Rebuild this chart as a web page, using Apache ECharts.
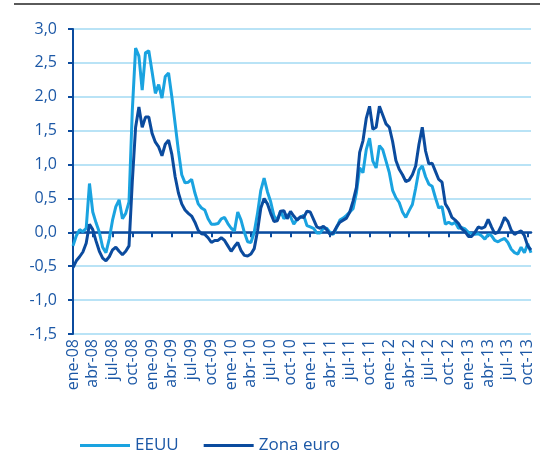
<!DOCTYPE html>
<html>
<head>
<meta charset="utf-8">
<script src="https://cdn.jsdelivr.net/npm/echarts@6/dist/echarts.min.js"></script>
<style>
  html, body { margin: 0; padding: 0; background: #fff; }
  #chart { width: 540px; height: 454px; }
</style>
</head>
<body>
<div id="chart"></div>
<script>
// two points per month, ene-08 .. oct-13
var meses = ['ene', 'feb', 'mar', 'abr', 'may', 'jun', 'jul', 'ago', 'sep', 'oct', 'nov', 'dic'];
var anios = ['08', '09', '10', '11', '12', '13'];

var eeuu = [
	-0.2, -0.05, 0.04, 0.01, 0.06, 0.72, 0.3, 0.14, 0.0, -0.22, -0.3, -0.1,
	0.18, 0.38, 0.48, 0.2, 0.28, 0.45, 1.8, 2.72, 2.6, 2.1, 2.65, 2.68,
	2.37, 2.05, 2.18, 1.98, 2.3, 2.35, 2.0, 1.6, 1.2, 0.85, 0.73, 0.74,
	0.78, 0.58, 0.42, 0.36, 0.33, 0.2, 0.12, 0.12, 0.13, 0.2, 0.22, 0.13,
	0.06, 0.02, 0.3, 0.18, 0.0, -0.14, -0.15, 0.0, 0.28, 0.62, 0.8, 0.6,
	0.45, 0.24, 0.18, 0.32, 0.2, 0.26, 0.23, 0.12, 0.19, 0.22, 0.25, 0.1,
	0.08, 0.06, -0.01, -0.01, 0.06, 0.06, 0.0, -0.03, 0.07, 0.18, 0.21, 0.25,
	0.3, 0.35, 0.58, 0.95, 0.88, 1.22, 1.39, 1.05, 0.95, 1.28, 1.22, 1.05,
	0.88, 0.62, 0.51, 0.44, 0.3, 0.22, 0.32, 0.41, 0.65, 0.92, 0.98, 0.82,
	0.71, 0.68, 0.51, 0.36, 0.38, 0.12, 0.15, 0.12, 0.15, 0.06, 0.07, 0.05,
	0.0, -0.02, -0.03, -0.02, -0.05, -0.1, -0.03, -0.05, -0.12, -0.14, -0.11, -0.09,
	-0.15, -0.25, -0.3, -0.32, -0.22, -0.3, -0.17, -0.3
];

var zonaEuro = [
	-0.52, -0.42, -0.36, -0.29, -0.16, 0.12, 0.04, -0.13, -0.28, -0.38, -0.42, -0.36,
	-0.26, -0.22, -0.28, -0.33, -0.28, -0.2, 0.75, 1.55, 1.85, 1.55, 1.7, 1.7,
	1.46, 1.33, 1.26, 1.13, 1.3, 1.36, 1.15, 0.82, 0.58, 0.42, 0.33, 0.28,
	0.24, 0.15, 0.03, -0.02, -0.03, -0.08, -0.15, -0.12, -0.12, -0.08, -0.12, -0.2,
	-0.28, -0.21, -0.15, -0.27, -0.34, -0.35, -0.32, -0.24, 0.02, 0.36, 0.5, 0.42,
	0.28, 0.16, 0.17, 0.31, 0.32, 0.2, 0.31, 0.24, 0.18, 0.23, 0.22, 0.31,
	0.3, 0.19, 0.08, 0.06, 0.09, 0.04, -0.03, -0.01, 0.08, 0.15, 0.18, 0.21,
	0.3, 0.46, 0.66, 1.18, 1.35, 1.68, 1.86, 1.52, 1.55, 1.86, 1.73, 1.6,
	1.55, 1.34, 1.06, 0.93, 0.85, 0.75, 0.77, 0.85, 0.98, 1.3, 1.55, 1.2,
	1.01, 1.02, 0.9, 0.78, 0.74, 0.42, 0.34, 0.22, 0.18, 0.13, 0.05, 0.01,
	-0.06, -0.06, 0.0, 0.08, 0.06, 0.08, 0.19, 0.08, -0.02, 0.0, 0.1, 0.22,
	0.16, 0.03, -0.03, 0.0, 0.02, -0.05, -0.2, -0.26
];

var categorias = [];
anios.forEach(function(a) {
	meses.forEach(function(m) {
		categorias.push(m + '-' + a);
		categorias.push(m + '-' + a + ' ');
	});
});
categorias = categorias.slice(0, eeuu.length);

var azulOscuro = '#0b4b9e';
var azulClaro = '#1aa3e0';
var texto = '#1c58a6';
var fuente = 'Open Sans';

function cadaTrimestre(i) {
	return i % 6 === 0;
}

var chart = echarts.init(document.getElementById('chart'));
chart.setOption({
	animation: false,
	textStyle: { fontFamily: fuente },
	grid: { left: 73, right: 9, top: 29, bottom: 120 },
	graphic: [ {
		type: 'line',
		shape: { x1: 14, y1: 4, x2: 540, y2: 4 },
		style: { stroke: '#5a5a5a', lineWidth: 2 }
	} ],
	legend: {
		left: 75,
		top: 432,
		icon: 'rect',
		itemWidth: 50,
		itemHeight: 3,
		itemGap: 25,
		textStyle: { color: texto, fontSize: 17, fontFamily: fuente },
		data: [ 'EEUU', 'Zona euro' ]
	},
	xAxis: [ {
		type: 'category',
		data: categorias,
		boundaryGap: false,
		position: 'bottom',
		axisLine: { show: false, onZero: false },
		axisTick: { show: false },
		splitLine: { show: false },
		axisLabel: {
			interval: function(i) { return cadaTrimestre(i); },
			rotate: 90,
			margin: 5,
			color: texto,
			fontSize: 16,
			fontFamily: fuente
		}
	}, {
		type: 'category',
		data: categorias,
		boundaryGap: false,
		position: 'bottom',
		axisLine: { show: true, onZero: true, lineStyle: { color: azulOscuro, width: 2.5 } },
		axisTick: { show: true, inside: false, length: 5, interval: function(i) { return cadaTrimestre(i); }, lineStyle: { color: azulOscuro, width: 2 } },
		axisLabel: { show: false },
		splitLine: { show: false }
	} ],
	yAxis: {
		type: 'value',
		min: -1.5,
		max: 3,
		interval: 0.5,
		axisLine: { show: true, lineStyle: { color: azulOscuro, width: 2 } },
		axisTick: { show: true, length: 5, lineStyle: { color: azulOscuro, width: 2 } },
		splitLine: { lineStyle: { color: '#b9e3f6', width: 2 } },
		axisLabel: {
			margin: 16,
			color: texto,
			fontSize: 16,
			fontFamily: fuente,
			formatter: function(v) { return v.toFixed(1).replace('.', ','); }
		}
	},
	series: [ {
		name: 'EEUU',
		type: 'line',
		data: eeuu,
		showSymbol: false,
		color: azulClaro,
		lineStyle: { width: 3, color: azulClaro }
	}, {
		name: 'Zona euro',
		type: 'line',
		data: zonaEuro,
		showSymbol: false,
		color: azulOscuro,
		lineStyle: { width: 3, color: azulOscuro }
	} ]
});
</script>
</body>
</html>
